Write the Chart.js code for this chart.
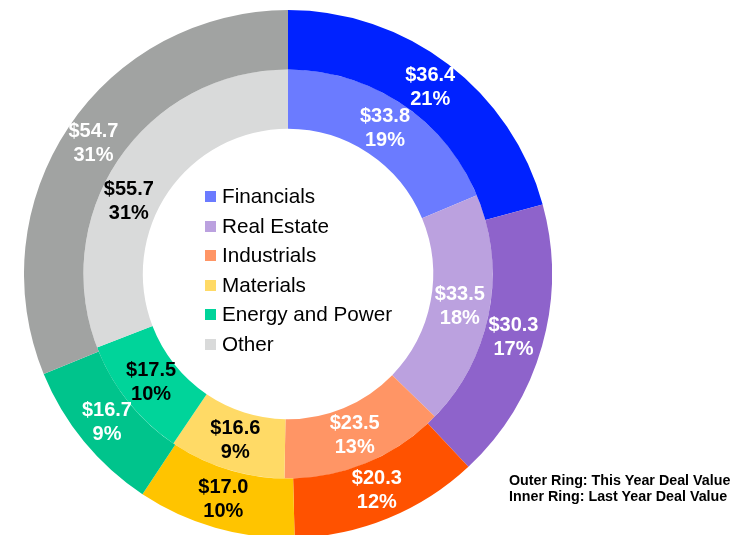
<!DOCTYPE html>
<html>
<head>
<meta charset="utf-8">
<script src="https://cdn.jsdelivr.net/npm/chart.js@4"></script>
<style>
  html, body { margin: 0; padding: 0; background: #fff; overflow: hidden; }
  body { width: 754px; height: 535px; position: relative; font-family: "Liberation Sans", Arial, sans-serif; }
  #wrap { position: absolute; left: 24px; top: 10px; width: 528px; height: 528px; }
  #legend { position: absolute; left: 205px; top: 181px; font-size: 20.7px; color: #000; }
  #legend div { height: 29.6px; line-height: 29.6px; white-space: nowrap; }
  #legend span { display: inline-block; width: 11px; height: 11px; margin-right: 6px; vertical-align: 1px; }
  #note { position: absolute; left: 509px; top: 472px; font-size: 14.3px; font-weight: bold; line-height: 16px; color: #000; }
</style>
</head>
<body>
<div id="wrap"><canvas id="myChart"></canvas></div>
<div id="legend"></div>
<div id="note">Outer Ring: This Year Deal Value<br>Inner Ring: Last Year Deal Value</div>
<script>
// Categories and values ($bn)
var categories = ['Financials', 'Real Estate', 'Industrials', 'Materials', 'Energy and Power', 'Other'];
var thisYear = [36.4, 30.3, 20.3, 17.0, 16.7, 54.7];
var lastYear = [33.8, 33.5, 23.5, 16.6, 17.5, 55.7];
var thisYearPct = ['21%', '17%', '12%', '10%', '9%', '31%'];
var lastYearPct = ['19%', '18%', '13%', '9%', '10%', '31%'];

var outerColors = ['#0022ff', '#8e63cb', '#ff5200', '#ffc400', '#00c48c', '#a1a3a2'];
var innerColors = ['#6b7bff', '#bba1df', '#ff9565', '#ffda66', '#00d49a', '#d9dada'];
var outerText = ['#fff', '#fff', '#fff', '#000', '#fff', '#fff'];
var innerText = ['#fff', '#fff', '#fff', '#000', '#000', '#000'];

// Legend in the middle of the ring
var legend = document.getElementById('legend');
categories.forEach(function(c, i) {
  var row = document.createElement('div');
  row.innerHTML = '<span style="background:' + innerColors[i] + '"></span>' + c;
  legend.appendChild(row);
});

// Draw value + percent labels inside each arc
var sliceLabels = {
  id: 'sliceLabels',
  afterDatasetsDraw: function(chart) {
    var ctx = chart.ctx;
    ctx.save();
    ctx.font = 'bold 20px "Liberation Sans", Arial, sans-serif';
    ctx.textAlign = 'center';
    ctx.textBaseline = 'middle';
    chart.data.datasets.forEach(function(ds, di) {
      var meta = chart.getDatasetMeta(di);
      meta.data.forEach(function(arc, i) {
        // inner "Other" label sits a bit earlier along its arc, away from the legend
        var frac = (di === 1 && i === categories.length - 1) ? 0.41 : 0.5;
        var a = arc.startAngle + (arc.endAngle - arc.startAngle) * frac;
        var r = (arc.innerRadius + arc.outerRadius) / 2;
        var x = arc.x + Math.cos(a) * r;
        var y = arc.y + Math.sin(a) * r;
        ctx.fillStyle = ds.textColors[i];
        ctx.fillText('$' + ds.data[i].toFixed(1), x, y - 12);
        ctx.fillText(ds.pctLabels[i], x, y + 12);
      });
    });
    ctx.restore();
  }
};

var ctx = document.getElementById('myChart').getContext('2d');
var myChart = new Chart(ctx, {
  type: 'doughnut',
  data: {
    labels: categories,
    datasets: [{
      label: 'This Year',
      data: thisYear,
      backgroundColor: outerColors,
      textColors: outerText,
      pctLabels: thisYearPct,
      borderWidth: 0
    }, {
      label: 'Last Year',
      data: lastYear,
      backgroundColor: innerColors,
      textColors: innerText,
      pctLabels: lastYearPct,
      borderWidth: 0
    }]
  },
  options: {
    responsive: true,
    maintainAspectRatio: false,
    animation: false,
    cutout: '55%',
    layout: { padding: 0 },
    plugins: {
      legend: { display: false },
      tooltip: { enabled: false }
    }
  },
  plugins: [sliceLabels]
});
</script>
</body>
</html>
